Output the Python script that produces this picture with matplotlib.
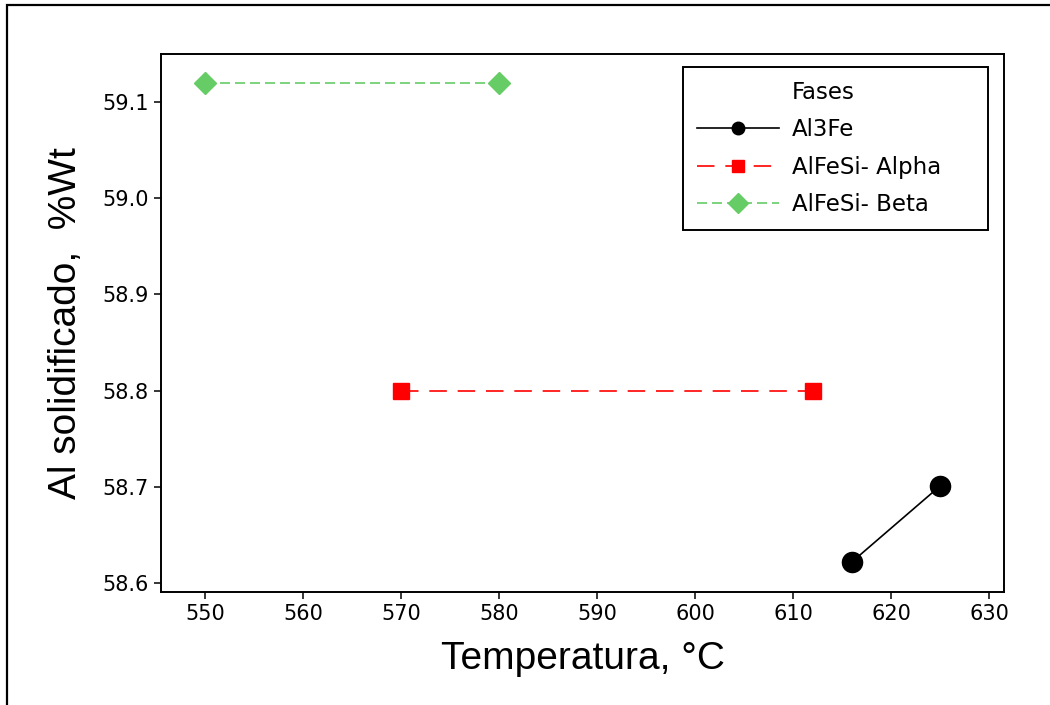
import matplotlib.pyplot as plt
from matplotlib.lines import Line2D
from matplotlib.patches import Rectangle

# datos de las fases
temp_al3fe = [616, 625]
al_al3fe = [58.622, 58.701]

temp_alpha = [570, 612]
al_alpha = [58.80, 58.80]

temp_beta = [550, 580]
al_beta = [59.12, 59.12]

xticks = [550, 560, 570, 580, 590, 600, 610, 620, 630]
yticks = [58.6, 58.7, 58.8, 58.9, 59.0, 59.1]

verde = '#66CC66'

fig = plt.figure(figsize=(10.5, 7.05), dpi=100)
ax = fig.add_axes([0.1533, 0.1603, 0.8029, 0.7631])

# marco exterior
fig.patches.append(Rectangle((0.0067, -0.05), 1.1, 1.0429, transform=fig.transFigure,
                             fill=False, edgecolor='black', linewidth=1.6))

ax.plot(temp_al3fe, al_al3fe, color='black', linewidth=1.2, marker='o',
        markersize=14.5, label='Al3Fe')
ax.plot(temp_alpha, al_alpha, color='red', linewidth=1.2, linestyle=(0, (10.5, 6.5)),
        marker='s', markersize=11.5, label='AlFeSi- Alpha')
ax.plot(temp_beta, al_beta, color=verde, linewidth=1.2, linestyle=(0, (6, 3)),
        marker='D', markersize=11.5, label='AlFeSi- Beta')

ax.set_xlim(545.5, 631.5)
ax.set_ylim(58.5906, 59.15)
ax.set_xticks(xticks)
ax.set_yticks(yticks)
ax.set_yticklabels(['%.1f' % v for v in yticks])

for s in ax.spines.values():
    s.set_linewidth(1.4)
ax.tick_params(direction='out', length=5, width=1.1, labelsize=15, pad=4)

ax.set_xlabel('Temperatura, °C', fontsize=28, family='Liberation Sans', labelpad=12)
ax.set_ylabel('Al solidificado,  %Wt', fontsize=28, family='Liberation Sans', labelpad=13)

# leyenda con titulo alineado a las etiquetas
titulo = Line2D([], [], linestyle='none', marker=None)
handles, labels = ax.get_legend_handles_labels()
leg = ax.legend([titulo] + handles, ['Fases'] + labels, loc='upper left',
                bbox_to_anchor=(0.619, 0.673, 0.362, 0.303), mode='expand',
                borderaxespad=0, fontsize=16.5,
                handlelength=3.6, handletextpad=0.55, labelspacing=0.63,
                borderpad=0.6, fancybox=False, framealpha=1, edgecolor='black')
leg.get_frame().set_linewidth(1.4)
tamanos = [0, 9, 8.5, 10]
for h, t in zip(leg.legend_handles, tamanos):
    if t:
        h.set_markersize(t)

plt.savefig('out.png', dpi=100)
